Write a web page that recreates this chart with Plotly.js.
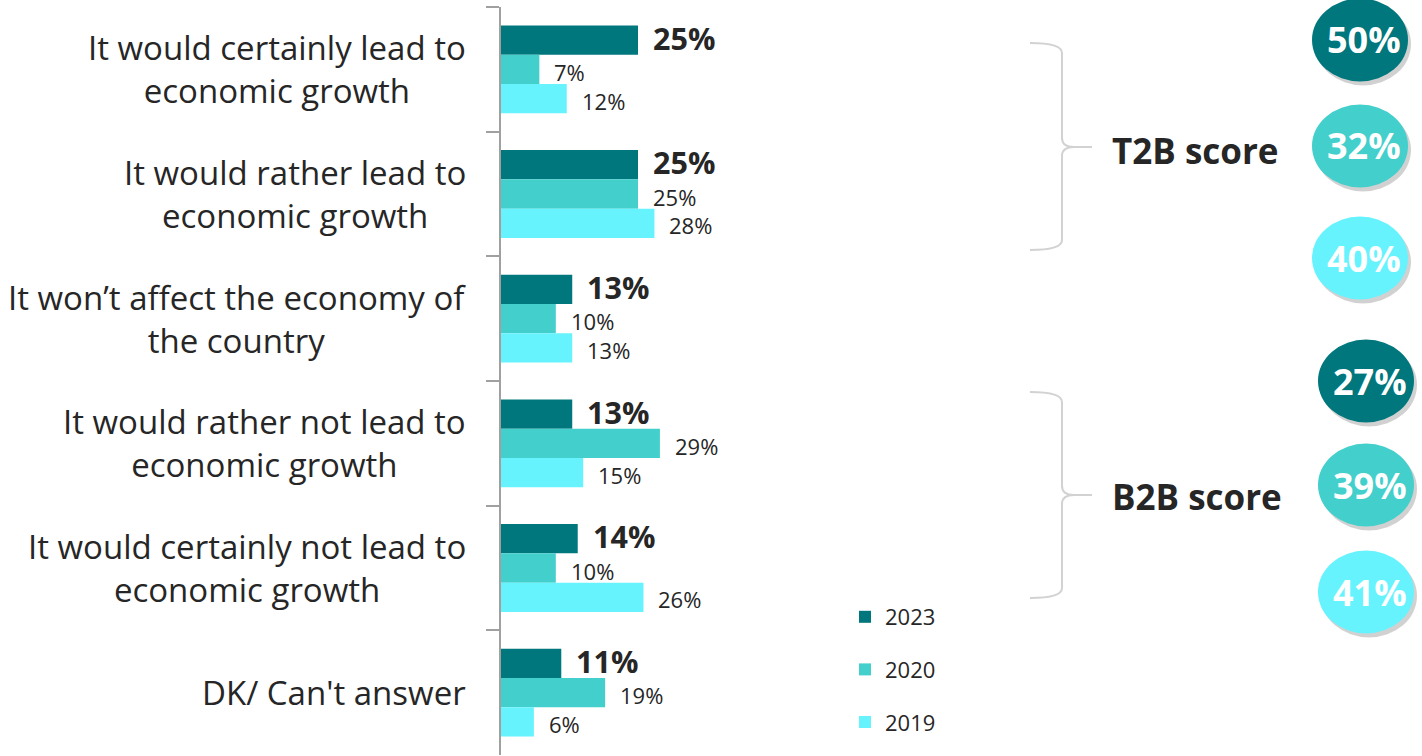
<!DOCTYPE html>
<html>
<head>
<meta charset="utf-8">
<script src="https://cdn.plot.ly/plotly-3.0.1.min.js"></script>
<style>
  html, body { margin: 0; padding: 0; background: #ffffff; }
  #chart { width: 1422px; height: 756px; }
</style>
</head>
<body>
<div id="chart"></div>
<script>
// ---------- data ----------
const categories = [
  "It would certainly lead to<br>economic growth",
  "It would rather lead to<br>economic growth",
  "It won\u2019t affect the economy of<br>the country",
  "It would rather not lead to<br>economic growth",
  "It would certainly not lead to<br>economic growth",
  "DK/ Can't answer"
];
const seriesNames = ["2023", "2020", "2019"];
const values2023 = [25, 25, 13, 13, 14, 11];
const values2020 = [7, 25, 10, 29, 10, 19];
const values2019 = [12, 28, 13, 15, 26, 6];
const scoreLabels = ["T2B score", "B2B score"];
const t2bScores = [50, 32, 40];
const b2bScores = [27, 39, 41];

// ---------- styling ----------
const colors = ["#00767D", "#43CFCB", "#66F3FE"];
const textColor = "#262626";
const FONT = "'Open Sans', 'DejaVu Sans', sans-serif";

const W = 1422, H = 756;
const M = { l: 501, r: 0, t: 7, b: 1 };
const plotW = W - M.l - M.r, plotH = H - M.t - M.b;
const pxPerUnit = 5.48;
const bargap = 0.295;
const px = x => (x - M.l) / plotW;          // pixel -> paper x
const py = y => 1 - (y - M.t) / plotH;      // pixel -> paper y

const allSeries = [values2023, values2020, values2019];

const traces = allSeries.map((vals, i) => ({
  type: "bar",
  orientation: "h",
  name: seriesNames[i],
  legendgroup: "g" + i,
  y: categories,
  x: vals,
  marker: { color: colors[i], line: { width: 0 } },
  hoverinfo: "skip"
}));

// value labels
const catH = plotH / categories.length;
const barW = catH * (1 - bargap) / allSeries.length;
const labelNudge = [2.5, -2.5, -2];
const annotations = [];
allSeries.forEach((vals, i) => {
  vals.forEach((v, j) => {
    annotations.push({
      x: v, y: categories[j], xref: "x", yref: "y",
      text: v + "%",
      showarrow: false, xanchor: "left", yanchor: "middle",
      xshift: 13, yshift: barW * (1 - i) + labelNudge[i],
      font: { family: FONT, size: i === 0 ? 30.5 : 22, color: textColor, weight: i === 0 ? 700 : 400 }
    });
  });
});

// category labels: centre-aligned blocks, right edge next to the axis
categories.forEach((c) => {
  annotations.push({
    x: px(468), y: c, xref: "paper", yref: "y",
    text: c, showarrow: false, xanchor: "right", yanchor: "middle", align: "center",
    font: { family: FONT, size: 33, color: textColor }
  });
});

// score circles
const shapes = [];
const groups = [
  { scores: t2bScores, cx: 1360, cys: [40, 146, 258], bracket: [43, 147, 250], labelY: 150 },
  { scores: b2bScores, cx: 1366, cys: [381, 485, 592], bracket: [392, 495, 598], labelY: 497 }
];
const rx = 48, ry = 41.5;
groups.forEach((g, gi) => {
  g.scores.forEach((s, i) => {
    const cx = g.cx, cy = g.cys[i];
    shapes.push({
      type: "circle", xref: "paper", yref: "paper", layer: "above",
      x0: px(cx - rx + 3), x1: px(cx + rx + 3), y0: py(cy + ry + 4), y1: py(cy - ry + 4),
      fillcolor: "rgba(0,0,0,0.18)", line: { width: 0 }
    });
    shapes.push({
      type: "circle", xref: "paper", yref: "paper", layer: "above",
      x0: px(cx - rx), x1: px(cx + rx), y0: py(cy + ry), y1: py(cy - ry),
      fillcolor: colors[i], line: { width: 0 }
    });
    annotations.push({
      x: px(cx + 4), y: py(cy), xref: "paper", yref: "paper",
      text: s + "%", showarrow: false, xanchor: "center", yanchor: "middle",
      font: { family: FONT, size: 36, color: "#ffffff", weight: 700 }
    });
  });
  // bracket
  const [yt, ym, yb] = g.bracket;
  const xl = 1030, xv = 1062, xt = 1092;
  const P = (x, y) => px(x).toFixed(5) + "," + py(y).toFixed(5);
  const path = "M" + P(xl, yt) +
    " Q" + P(xv, yt) + " " + P(xv, yt + 10) +
    " L" + P(xv, ym - 9) +
    " Q" + P(xv, ym) + " " + P(xv + 12, ym) +
    " L" + P(xt, ym) +
    " M" + P(xv + 12, ym) +
    " Q" + P(xv, ym) + " " + P(xv, ym + 9) +
    " L" + P(xv, yb - 10) +
    " Q" + P(xv, yb) + " " + P(xl, yb);
  shapes.push({
    type: "path", xref: "paper", yref: "paper", path: path,
    line: { color: "#D2D2D2", width: 2 }
  });
  annotations.push({
    x: px(1110), y: py(g.labelY), xref: "paper", yref: "paper",
    text: scoreLabels[gi], showarrow: false, xanchor: "left", yanchor: "middle",
    font: { family: FONT, size: 35, color: textColor, weight: 700 }
  });
});

const layout = {
  width: W, height: H,
  margin: M,
  paper_bgcolor: "#ffffff", plot_bgcolor: "#ffffff",
  barmode: "group",
  bargap: bargap, bargroupgap: 0,
  font: { family: FONT, color: textColor },
  xaxis: {
    range: [0, plotW / pxPerUnit],
    visible: false, showgrid: false, zeroline: false, fixedrange: true
  },
  yaxis: {
    type: "category",
    autorange: "reversed",
    showline: true, linecolor: "#A0A0A0", linewidth: 2,
    ticks: "outside", tickson: "boundaries", ticklen: 13, tickwidth: 2, tickcolor: "#A0A0A0",
    showticklabels: false, showgrid: false, zeroline: false, fixedrange: true
  },
  showlegend: true,
  legend: {
    x: px(845), xanchor: "left",
    y: py(596), yanchor: "top",
    traceorder: "grouped",
    tracegroupgap: 21,
    font: { family: FONT, size: 22, color: textColor },
    bgcolor: "rgba(0,0,0,0)"
  },
  shapes: shapes,
  annotations: annotations
};

Plotly.newPlot("chart", traces, layout, { staticPlot: true, displayModeBar: false });
</script>
</body>
</html>
